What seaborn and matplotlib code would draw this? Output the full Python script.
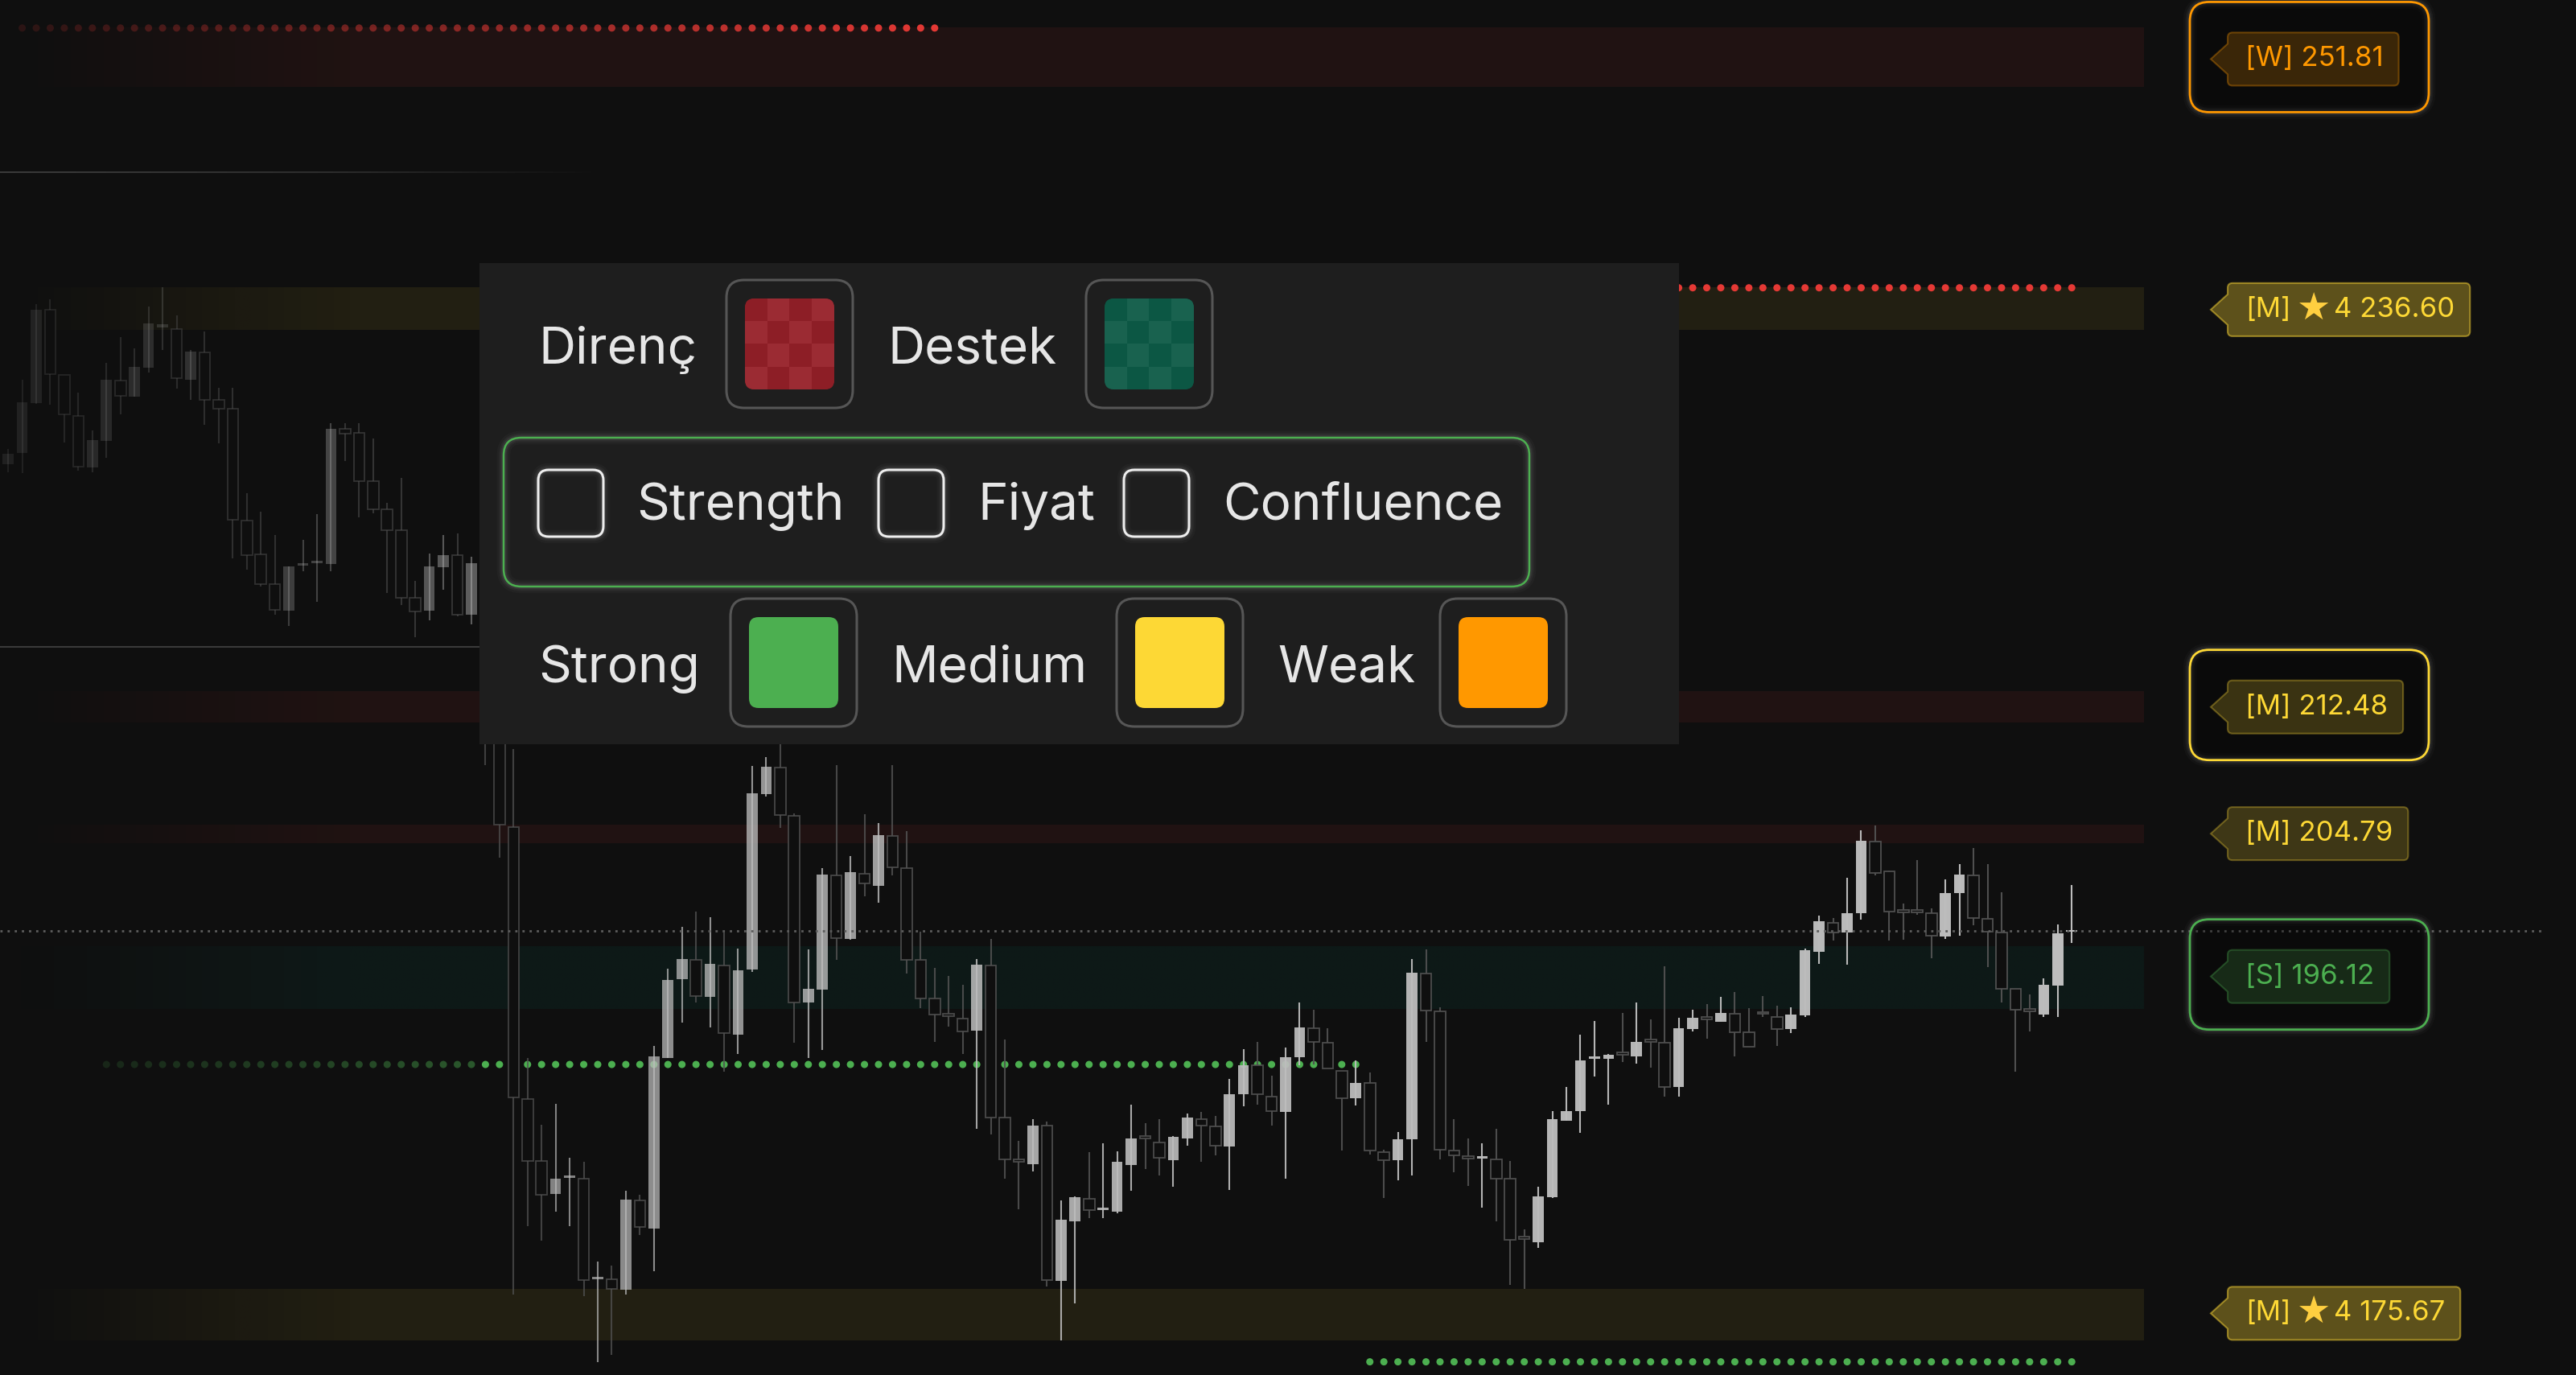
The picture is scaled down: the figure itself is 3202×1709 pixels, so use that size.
import numpy as np
import pandas as pd
import matplotlib.pyplot as plt
import seaborn as sns
from matplotlib.patches import FancyBboxPatch, PathPatch, Rectangle
from matplotlib.path import Path
from matplotlib.collections import LineCollection
from matplotlib.colors import to_rgba, to_rgb

BG = "#0f0f0f"
W_PX, H_PX = 3202, 1709

# =========================
# CANDLES (oldest first)
# =========================

opens = [227.3, 227.95, 231.0, 236.66, 232.71, 230.23, 227.1, 228.69, 232.38, 231.4,
         233.13, 235.57, 235.48, 232.43, 234.06, 231.21, 230.64, 223.88, 221.82, 220.03,
         218.38, 221.12, 221.28, 221.25, 229.42, 229.18, 226.24, 224.57, 223.26, 219.19,
         218.38, 221.03, 221.77, 218.15, 221.3, 212.0, 205.27, 188.76, 185.01, 183.0,
         183.98, 183.93, 177.83, 177.8, 177.2, 182.59, 180.9, 191.23, 196.02, 197.21,
         194.96, 196.85, 192.67, 196.6, 207.24, 208.87, 205.93, 194.59, 195.39, 202.32,
         198.47, 202.45, 201.69, 204.72, 202.75, 197.21, 194.84, 193.85, 193.63, 192.92,
         196.85, 187.63, 185.06, 184.81, 187.13, 177.7, 181.33, 182.72, 182.01, 181.91,
         184.76, 186.4, 186.12, 185.06, 186.37, 187.53, 187.08, 185.87, 189.04, 190.81,
         188.89, 187.96, 191.28, 193.05, 192.17, 190.48, 188.79, 189.72, 185.51, 185.06,
         186.32, 196.35, 194.08, 185.61, 185.21, 185.16, 185.11, 183.93, 180.3, 180.07,
         182.79, 187.45, 188.03, 191.21, 191.18, 191.51, 191.36, 192.27, 192.17, 189.47,
         193.0, 193.65, 193.43, 193.93, 192.82, 193.96, 193.75, 193.0, 193.83, 197.71,
         199.47, 198.87, 200.05, 204.39, 202.57, 200.15, 200.15, 200.05, 198.62, 201.24,
         202.32, 199.68, 198.87, 195.44, 194.11, 193.88, 195.64, 198.89]

highs = [228.2, 232.43, 236.99, 237.3, 232.71, 231.62, 229.34, 233.46, 234.99, 234.3,
         236.88, 238.05, 236.34, 234.22, 235.36, 231.91, 231.91, 225.51, 224.42, 222.99,
         221.08, 222.71, 224.24, 229.78, 229.78, 229.78, 228.85, 224.94, 226.46, 220.22,
         221.85, 222.99, 223.07, 221.69, 222.0, 212.8, 210.0, 191.23, 187.2, 188.46,
         185.19, 184.93, 178.89, 178.63, 183.17, 182.92, 191.99, 196.65, 199.22, 200.13,
         199.8, 198.87, 197.91, 208.95, 209.5, 211.0, 206.1, 197.84, 202.75, 209.0,
         203.51, 206.03, 205.52, 209.0, 205.02, 198.92, 196.73, 196.22, 195.69, 197.23,
         198.49, 192.37, 186.19, 187.53, 187.38, 182.59, 182.84, 185.51, 186.07, 185.56,
         188.39, 187.28, 187.53, 186.52, 187.88, 187.96, 187.71, 189.97, 191.79, 192.24,
         190.15, 191.86, 194.59, 194.18, 193.07, 190.48, 191.11, 190.35, 185.69, 186.75,
         197.23, 197.84, 194.33, 187.53, 186.37, 186.07, 186.95, 185.01, 180.83, 183.42,
         188.03, 189.47, 192.67, 193.5, 191.49, 194.0, 194.59, 193.58, 196.83, 193.68,
         194.18, 194.51, 194.94, 195.27, 194.26, 195.01, 194.43, 194.33, 197.91, 199.88,
         199.73, 202.2, 205.09, 205.35, 202.62, 200.63, 203.28, 200.31, 202.07, 203.03,
         204.01, 203.03, 201.31, 195.44, 195.09, 196.1, 199.35, 201.74]

lows = [226.8, 226.73, 230.97, 230.9, 228.6, 226.9, 226.8, 227.66, 230.31, 231.4,
        232.87, 234.22, 231.86, 231.18, 229.66, 228.57, 221.57, 220.87, 219.86, 218.15,
        217.45, 220.79, 218.92, 220.79, 227.5, 224.05, 224.29, 219.46, 218.76, 216.8,
        217.83, 219.68, 218.06, 217.57, 209.0, 203.4, 176.87, 181.03, 180.15, 181.91,
        181.03, 176.79, 172.76, 173.2, 176.87, 180.52, 178.31, 191.23, 193.38, 194.59,
        193.12, 190.4, 191.49, 196.45, 207.11, 205.22, 192.17, 191.23, 191.74, 197.21,
        198.4, 201.06, 200.68, 202.32, 196.35, 194.26, 192.24, 193.17, 191.49, 186.95,
        186.62, 183.93, 182.04, 184.35, 177.37, 174.1, 176.37, 181.53, 181.53, 181.83,
        183.17, 184.51, 184.1, 183.42, 185.94, 184.93, 185.31, 183.25, 188.29, 188.39,
        187.13, 183.93, 190.81, 190.86, 190.6, 185.61, 188.34, 185.36, 182.74, 183.8,
        184.1, 192.24, 185.11, 184.3, 183.5, 182.16, 181.33, 177.45, 177.25, 179.72,
        182.74, 187.45, 186.7, 190.1, 188.39, 190.98, 190.91, 190.65, 188.89, 188.89,
        192.87, 192.42, 193.43, 191.36, 191.91, 193.75, 191.99, 192.75, 193.75, 196.95,
        198.37, 196.9, 199.63, 202.32, 198.37, 198.42, 199.93, 197.28, 198.47, 198.67,
        199.3, 196.78, 194.59, 190.4, 192.87, 193.75, 193.75, 198.22]

closes = [227.9, 231.05, 236.66, 232.76, 230.31, 227.14, 228.77, 232.43, 231.45, 233.2,
          235.85, 235.77, 232.51, 234.14, 231.21, 230.64, 223.92, 221.77, 220.01, 218.43,
          221.08, 221.25, 221.34, 229.45, 229.13, 226.24, 224.57, 223.3, 219.19, 218.35,
          221.08, 221.77, 218.15, 221.28, 212.0, 205.4, 188.84, 185.01, 182.92, 183.93,
          184.03, 177.75, 177.93, 177.25, 182.67, 180.98, 191.36, 195.97, 197.23, 195.01,
          196.98, 192.75, 196.58, 207.29, 208.92, 205.98, 194.59, 195.44, 202.4, 198.54,
          202.52, 201.82, 204.77, 202.83, 197.21, 194.84, 193.88, 193.8, 192.87, 196.9,
          187.63, 185.11, 184.96, 187.13, 177.75, 181.41, 182.79, 181.99, 182.06, 184.93,
          186.37, 186.35, 185.19, 186.45, 187.63, 187.13, 185.94, 189.04, 190.81, 189.04,
          188.03, 191.28, 193.12, 192.24, 190.6, 188.79, 189.72, 185.61, 185.06, 186.32,
          196.4, 194.13, 185.69, 185.31, 185.16, 185.21, 183.93, 180.22, 180.25, 182.84,
          187.53, 188.03, 191.11, 191.26, 191.44, 191.46, 192.24, 192.22, 189.47, 193.05,
          193.68, 193.6, 194.0, 192.82, 191.91, 193.91, 193.0, 193.88, 197.79, 199.55,
          198.87, 200.05, 204.41, 202.5, 200.13, 200.1, 200.1, 198.67, 201.24, 202.37,
          199.73, 198.92, 195.44, 194.18, 194.06, 195.69, 198.79, 198.94]

# =========================
# LEVELS / ZONES
# =========================

level_prices = [251.81, 236.60, 212.48, 204.79, 196.12, 175.67]
level_grades = ["W", "M", "M", "M", "S", "M"]
level_stars = [0, 4, 0, 0, 0, 4]
level_focus = [True, False, True, False, True, False]

zone_lo = [250.19, 235.45, 211.6, 204.26, 194.2, 174.1]
zone_hi = [253.76, 238.0, 213.46, 205.35, 198.0, 177.2]
zone_colors = ["#e53935", "#fdd835", "#e53935", "#e53935", "#00897b", "#fdd835"]

dot_prices = [253.77, 238.0, 190.85, 172.8]
dot_first = [1, 90, 7, 97]
dot_last = [66, 147, 96, 147]
dot_colors = ["#e53935", "#e53935", "#4caf50", "#4caf50"]

guide_prices = [245.0, 216.2]

grade_color = {"S": "#4caf50", "M": "#fdd835", "W": "#ff9800"}

# panel content
pick_labels = ["Direnç", "Destek"]
pick_colors = [("#8d1e26", "#9b2b33"), ("#0c5744", "#19624f")]
toggle_labels = ["Strength", "Fiyat", "Confluence"]
grade_labels = ["Strong", "Medium", "Weak"]
grade_swatch = ["#4caf50", "#fdd835", "#ff9800"]

# =========================
# FIGURE
# =========================

sns.set_theme(style="dark", rc={"axes.facecolor": BG, "figure.facecolor": BG})
plt.rcParams["font.family"] = ["Inter", "DejaVu Sans"]

fig = plt.figure(figsize=(W_PX / 100, H_PX / 100), dpi=100)
ax = fig.add_axes([0, 0, 1, 1])
ax.set_facecolor(BG)

XLIM = (-0.58, 182.92)
YLIM = (172.0, 255.47)
ZONE_END = 152.1

# zones with a fade-in from the left
ramp = np.linspace(XLIM[0], ZONE_END, 400)
fade = np.interp(ramp, [0.6, 25], [0.04, 1.0])
for lo, hi, col in zip(zone_lo, zone_hi, zone_colors):
    img = np.zeros((1, len(ramp), 4))
    img[..., :3] = to_rgb(col)
    img[..., 3] = 0.085 * fade
    ax.imshow(img, extent=(XLIM[0], ZONE_END, lo, hi), aspect="auto",
              interpolation="bilinear", zorder=1)

# faint guide lines on the left
for gp, end, fades in zip(guide_prices, [42, 34.5], [True, False]):
    xs = np.linspace(XLIM[0], end, 80)
    segs = [[(xs[k], gp), (xs[k + 1], gp)] for k in range(len(xs) - 1)]
    a = np.interp(xs[:-1], [0, 22, end], [1, 0.7, 0]) if fades else np.ones(len(xs) - 1)
    cols = [to_rgba("#3a3a3a", v) for v in a]
    ax.add_collection(LineCollection(segs, colors=cols, linewidths=1.5, zorder=1.5))

# dotted level markers
for price, i0, i1, col in zip(dot_prices, dot_first, dot_last, dot_colors):
    idx = np.arange(i0, i1 + 1)
    df = pd.DataFrame({"x": idx, "y": np.full(len(idx), price)})
    sns.scatterplot(data=df, x="x", y="y", ax=ax, s=42, color=col,
                    linewidth=0, legend=False, zorder=2)
    if col == "#e53935" and i0 < 10:
        a = np.interp(idx, [0, 66], [0.12, 1.0])
    elif i0 < 10:
        a = np.interp(idx, [7, 33, 34], [0.15, 0.45, 1.0])
    else:
        a = np.ones(len(idx))
    ax.collections[-1].set_facecolor([to_rgba(col, v) for v in a])
    ax.collections[-1].set_edgecolor("none")

# candles
o, h, l, c = map(np.array, (opens, highs, lows, closes))
x = np.arange(len(o))
up = c >= o
a_up = np.interp(x, [0, 16.6, 33.2, 33.8, 45.3, 68.2, 96.8, 147], [0.1, 0.22, 0.45, 0.62, 0.72, 0.86, 0.95, 1.0])
a_dn = np.interp(x, [0, 16.6, 33.2, 33.8, 68.2, 147], [0.3, 0.5, 0.62, 0.75, 0.9, 1.0])
UP_COL, DN_COL = "#bdbdbd", "#505050"
wick_cols = [to_rgba(UP_COL, a_up[k]) if up[k] else to_rgba(DN_COL, a_dn[k]) for k in x]
ax.vlines(x, l, h, colors=wick_cols, linewidth=1.5, zorder=3)

bottom = np.minimum(o, c)
height = np.maximum(np.abs(c - o), 0.14)
ax.bar(x[up], height[up], 0.78, bottom=bottom[up],
       color=[to_rgba(UP_COL, v) for v in a_up[up]], linewidth=0, zorder=4)
ax.bar(x[~up], height[~up], 0.78, bottom=bottom[~up], facecolor=BG,
       edgecolor=[to_rgba(DN_COL, v) for v in a_dn[~up]], linewidth=1.3, zorder=4)

# last price line
ax.hlines(c[-1], XLIM[0], 180.7, colors="#5c5c5c", linestyles=(0, (1, 2.2)),
          linewidth=2, zorder=6)

ax.set_xlim(*XLIM)
ax.set_ylim(*YLIM)
ax.axis("off")

# =========================
# UI OVERLAY (pixel coords)
# =========================

ui = fig.add_axes([0, 0, 1, 1])
ui.set_zorder(ax.get_zorder() + 1)
ui.set_xlim(0, W_PX)
ui.set_ylim(H_PX, 0)
ui.axis("off")


def py(price):
    return H_PX - ax.transData.transform((0, price))[1]


def rbox(x0, y0, w, hh, r, fc, ec, lw, z):
    p = FancyBboxPatch((x0, y0), w, hh, boxstyle=f"round,pad=0,rounding_size={r}",
                       fc=fc, ec=ec, lw=lw, zorder=z)
    ui.add_patch(p)
    return p


def glow(x0, y0, w, hh, r, z, col=(1, 1, 1)):
    for lw, a in [(12, 0.025), (8, 0.04), (5, 0.06)]:
        rbox(x0, y0, w, hh, r, "none", (*col, a), lw, z)


# settings panel
ui.add_patch(Rectangle((596, 327), 1491, 598, fc="#1e1e1e", ec="none", zorder=10))
TXT = "#e6e6e6"
FS = 46


def swatch(x0, y0, colors):
    rbox(x0, y0, 157, 159, 22, "none", "#565656", 2.2, 12)
    inner = rbox(x0 + 23, y0 + 23, 111, 113, 12, colors[0], "none", 0, 12)
    if len(colors) > 1:
        grid = np.add.outer(np.arange(4), np.arange(4)) % 2
        img = np.array([to_rgb(colors[g]) for g in grid.ravel()]).reshape(4, 4, 3)
        im = ui.imshow(img, extent=(x0 + 23, x0 + 134, y0 + 136, y0 + 23),
                       interpolation="nearest", aspect="auto", zorder=13)
        im.set_clip_path(inner)


for lab, tx, sx, cols in zip(pick_labels, [669, 1103], [903, 1350], pick_colors):
    ui.text(tx, 452, lab, fontsize=FS, color=TXT, ha="left", va="baseline", zorder=14)
    swatch(sx, 348, cols)

glow(626, 544, 1275, 185, 22, 11)
rbox(626, 544, 1275, 185, 22, "none", "#4caf50", 1.8, 12)
for lab, bx, tx in zip(toggle_labels, [669, 1092, 1397], [791, 1215, 1520]):
    glow(bx, 584, 81, 83, 13, 11)
    rbox(bx, 584, 81, 83, 13, "none", "#eeeeee", 2.2, 12)
    ui.text(tx, 646, lab, fontsize=FS, color=TXT, ha="left", va="baseline", zorder=14)

for lab, tx, sx, col in zip(grade_labels, [669, 1108, 1588], [908, 1388, 1790], grade_swatch):
    ui.text(tx, 848, lab, fontsize=FS, color=TXT, ha="left", va="baseline", zorder=14)
    swatch(sx, 744, (col,))

ui.set_xlim(0, W_PX)
ui.set_ylim(H_PX, 0)

# price tags on the right
renderer = fig.canvas.get_renderer()
M, L, C, Q = Path.MOVETO, Path.LINETO, Path.CURVE3, Path.CLOSEPOLY


def tag_path(xt, xl, xr, yc, hh, tip, r):
    yt, yb = yc - hh / 2, yc + hh / 2
    verts = [(xt, yc), (xl, yc - tip / 2), (xl, yt + r), (xl, yt), (xl + r, yt),
             (xr - r, yt), (xr, yt), (xr, yt + r), (xr, yb - r), (xr, yb), (xr - r, yb),
             (xl + r, yb), (xl, yb), (xl, yb - r), (xl, yc + tip / 2), (xt, yc)]
    codes = [M, L, L, C, C, L, C, C, L, C, C, L, C, C, L, Q]
    return Path(verts, codes)


TAG_FS = 25
for price, grade, stars, focus in zip(level_prices, level_grades, level_stars, level_focus):
    col = grade_color[grade]
    yc = py(price) - 1.5
    if focus:
        glow(2722, yc - 71, 297, 137, 24, 15)
        rbox(2722, yc - 71, 297, 137, 24, (0, 0, 0, 0.3), col, 2.0, 16)
    if stars:
        ui.text(2791, yc, f"[{grade}]", fontsize=TAG_FS, color=col, ha="left", va="center", zorder=19)
        ui.text(2855, yc, "\u2605", fontsize=34, color="#ffcf40", ha="left", va="center",
                family="DejaVu Sans", zorder=19)
        last = ui.text(2901, yc, f"{stars} {price:.2f}", fontsize=TAG_FS, color=col,
                       ha="left", va="center", zorder=19)
        fa, ea = 0.33, 0.5
    else:
        last = ui.text(2791, yc, f"[{grade}] {price:.2f}", fontsize=TAG_FS, color=col,
                       ha="left", va="center", zorder=19)
        fa, ea = 0.2, 0.33
    xr = last.get_window_extent(renderer=renderer).x1 + 19
    ui.add_patch(PathPatch(tag_path(2748, 2769, xr, yc, 66, 38, 6),
                           fc=to_rgba(col, fa), ec=to_rgba(col, ea), lw=1.5, zorder=18))

ui.set_xlim(0, W_PX)
ui.set_ylim(H_PX, 0)

fig.savefig("out.png", dpi=100, facecolor=BG)
plt.close(fig)
